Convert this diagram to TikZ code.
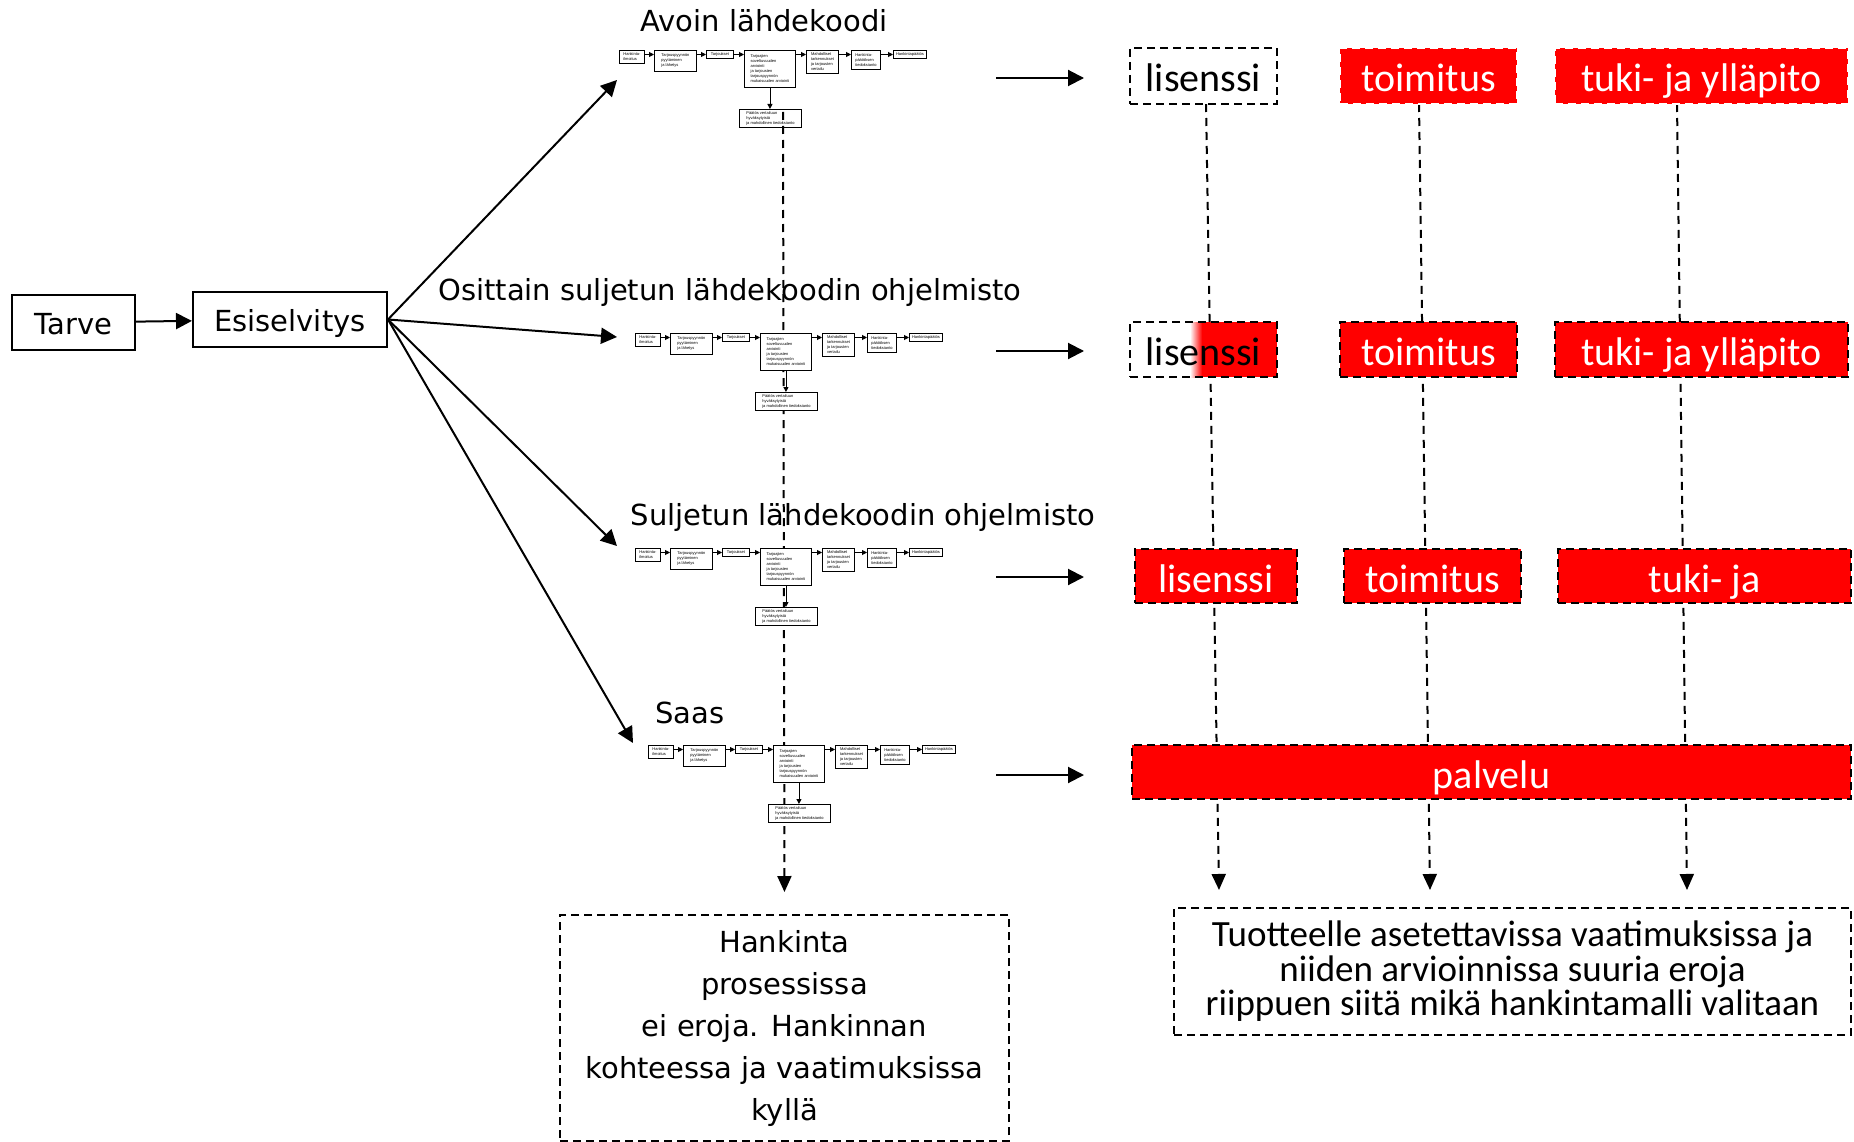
\documentclass[tikz,border=0pt]{standalone}
\usepackage{fontspec}
\setmainfont{DejaVu Sans}
\newfontfamily\rfont{Carlito}
\newfontfamily\mfont{Liberation Sans}
\usetikzlibrary{arrows.meta,backgrounds,calc}
\tikzset{
  mainlbl/.style={inner sep=0pt, font=\fontsize{29}{35}\selectfont},
  sbox/.style={draw, line width=2pt, inner sep=0pt, text height=30pt, text depth=6pt, font=\fontsize{29}{35}\selectfont},
  arr/.style={line width=2pt, -{Triangle[length=16pt,width=16pt]}},
  darr/.style={line width=2pt, dash pattern=on 8pt off 6pt, -{Triangle[length=16pt,width=14pt]}},
  rbox/.style={fill=red, text=white, inner sep=0pt, text height=36pt, text depth=4pt, font=\rfont\fontsize{40}{46}\selectfont},
  rboxk/.style={rbox, draw=black, line width=2pt, dash pattern=on 8pt off 5pt},
  rboxw/.style={rbox, draw=white, line width=2pt, dash pattern=on 8pt off 5pt},
  wbox/.style={fill=white, draw=black, text=black, line width=2pt, dash pattern=on 8pt off 5pt, inner sep=0pt, text height=36pt, text depth=4pt, font=\rfont\fontsize{40}{46}\selectfont},
  notebox/.style={draw=black, line width=2pt, dash pattern=on 8pt off 5pt, inner sep=0pt, align=center},
  mb/.style={draw, line width=0.9pt, fill=white, anchor=north west, align=left, inner sep=1.2pt, font=\mfont\fontsize{4}{5}\selectfont},
  marr/.style={line width=0.9pt, -{Triangle[length=5pt,width=5pt]}},
  procpic/.pic={
    \node[mb,minimum width=25pt,minimum height=13pt] (-b1) at (0,0) {Hankinta-\\ilmoitus};
    \node[mb,minimum width=42pt,minimum height=21pt] (-b2) at (35,0) {Tarjouspyynnön\\pyytäminen\\ja lähetys};
    \node[mb,minimum width=27pt,minimum height=8pt] (-b3) at (87,0) {Tarjoukset};
    \node[mb,minimum width=51pt,minimum height=37pt] (-b4) at (125,0) {Tarjoajien\\ soveltuvuuden\\arviointi\\ja tarjousten\\tarjouspyynnön\\mukaisuuden arviointi};
    \node[mb,minimum width=32pt,minimum height=23pt] (-b5) at (187,0) {Mahdolliset\\tarkennukset\\ja tarjousten\\vertailu};
    \node[mb,minimum width=29pt,minimum height=19pt] (-b6) at (232,0) {Hankinta-\\päätöksen\\tiedoksianto};
    \node[mb,minimum width=33pt,minimum height=8pt] (-b7) at (274,0) {Hankintapäätös};
    \node[mb,minimum width=62pt,minimum height=18pt] (-b8) at (120,59) {Päätös vertailuun\\ hyväksytyistä\\ja mahdollinen tiedoksianto};
    \foreach \a/\b in {b1/b2,b2/b3,b3/b4,b4/b5,b5/b6,b6/b7}
      \draw[marr] ([yshift=-4.5pt]-\a.north east) -- ([yshift=-4.5pt]-\b.north west);
    \draw[marr] (-b4.south) -- (-b4.south |- -b8.north);
  }
}
\begin{document}
\begin{tikzpicture}[x=1pt,y=-1pt]
\useasboundingbox (0,0) rectangle (1854,1142);
\begin{scope}[on background layer]
  \fill[white] (0,0) rectangle (1854,1142);
\end{scope}

% left chain
\node[sbox, minimum width=123pt, minimum height=55pt] (tarve) at (73.5,322.5) {Tarve};
\node[sbox, minimum width=194pt, minimum height=55pt] (esi) at (290,319.5) {Esiselvitys};
\draw[arr] (tarve) -- (esi);

% titles
\node[mainlbl] (tA) at (764,21) {Avoin lähdekoodi};
\node[mainlbl] (tB) at (730,292) {Osittain suljetun lähdekoodin ohjelmisto};
\node[mainlbl] (tC) at (863,517) {Suljetun lähdekoodin ohjelmisto};
\node[mainlbl] (tD) at (690,713) {Saas};

% bottom notes
\node[notebox, minimum width=449pt, minimum height=226pt, font=\fontsize{29}{42}\selectfont] (lb) at (784.5,1028)
  {Hankinta\\prosessissa\\ei eroja. Hankinnan\\kohteessa ja vaatimuksissa\\kyllä};
\node[notebox, minimum width=677pt, minimum height=127pt, font=\rfont\fontsize{37}{34.5}\selectfont] (rb) at (1512.5,971.5)
  {Tuotteelle asetettavissa vaatimuksissa ja\\niiden arvioinnissa suuria eroja\\riippuen siitä mikä hankintamalli valitaan};

% process copies
\pic (p1) at (619,50) {procpic};
\coordinate (dtop) at (783,112);
\draw[darr, shorten >=22pt] (dtop) -- (lb.north);
\pic (p2) at (635,333) {procpic};
\pic (p3) at (635,548) {procpic};
\pic (p4) at (648,745) {procpic};

% arrows from Esiselvitys
\coordinate (aA) at (617,80);
\coordinate (aB) at (617,337);
\coordinate (aC) at (617,546);
\coordinate (aD) at (633,743);
\foreach \t in {aA,aB,aC,aD} \draw[arr] (esi.east) -- (\t);

% right boxes
\node[wbox, minimum width=147pt, minimum height=56pt] (l1) at (1203.5,76) {lisenssi};
\node[rboxw, minimum width=177pt, minimum height=56pt] (o1) at (1428.5,76) {toimitus};
\node[rboxw, minimum width=293pt, minimum height=56pt] (s1) at (1701.5,76) {tuki- ja ylläpito};

\node[wbox, minimum width=147pt, minimum height=55pt,
  path picture={
    \fill[red] ([xshift=-75pt]path picture bounding box.north east) rectangle (path picture bounding box.south east);
    \shade[left color=white, right color=red] ([xshift=-87pt]path picture bounding box.north east) rectangle ([xshift=-75pt]path picture bounding box.south east);
  }] (l2) at (1203.5,349.5) {lisenssi};
\node[rboxk, minimum width=177pt, minimum height=55pt] (o2) at (1428.5,349.5) {toimitus};
\node[rboxk, minimum width=293pt, minimum height=55pt] (s2) at (1701.5,349.5) {tuki- ja ylläpito};

\node[rboxk, minimum width=162pt, minimum height=54pt] (l3) at (1216,576) {lisenssi};
\node[rboxk, minimum width=177pt, minimum height=54pt] (o3) at (1432.5,576) {toimitus};
\node[rboxk, minimum width=293pt, minimum height=54pt] (s3) at (1704.5,576) {tuki- ja};

\node[rboxk, minimum width=719pt, minimum height=54pt] (pal) at (1491.5,772) {palvelu};

% horizontal arrows
\coordinate (h1) at (996,78);
\coordinate (h2) at (996,351);
\coordinate (h3) at (996,577);
\coordinate (h4) at (996,775);
\draw[arr, shorten >=45pt] (h1) -- (h1 -| l1.west);
\draw[arr, shorten >=45pt] (h2) -- (h2 -| l2.west);
\draw[arr, shorten >=50pt] (h3) -- (h3 -| l3.west);
\draw[arr, shorten >=47pt] (h4) -- (h4 -| pal.west);

% vertical dashed columns
\coordinate (c1t) at (1206,104);
\coordinate (c2t) at (1419,104);
\coordinate (c3t) at (1677,104);
\coordinate (c1b) at (1219,890);
\coordinate (c2b) at (1430,890);
\coordinate (c3b) at (1687,890);
\begin{scope}[on background layer]
  \draw[darr] (c1t) -- (c1b);
  \draw[darr] (c2t) -- (c2b);
  \draw[darr] (c3t) -- (c3b);
\end{scope}
\end{tikzpicture}
\end{document}
